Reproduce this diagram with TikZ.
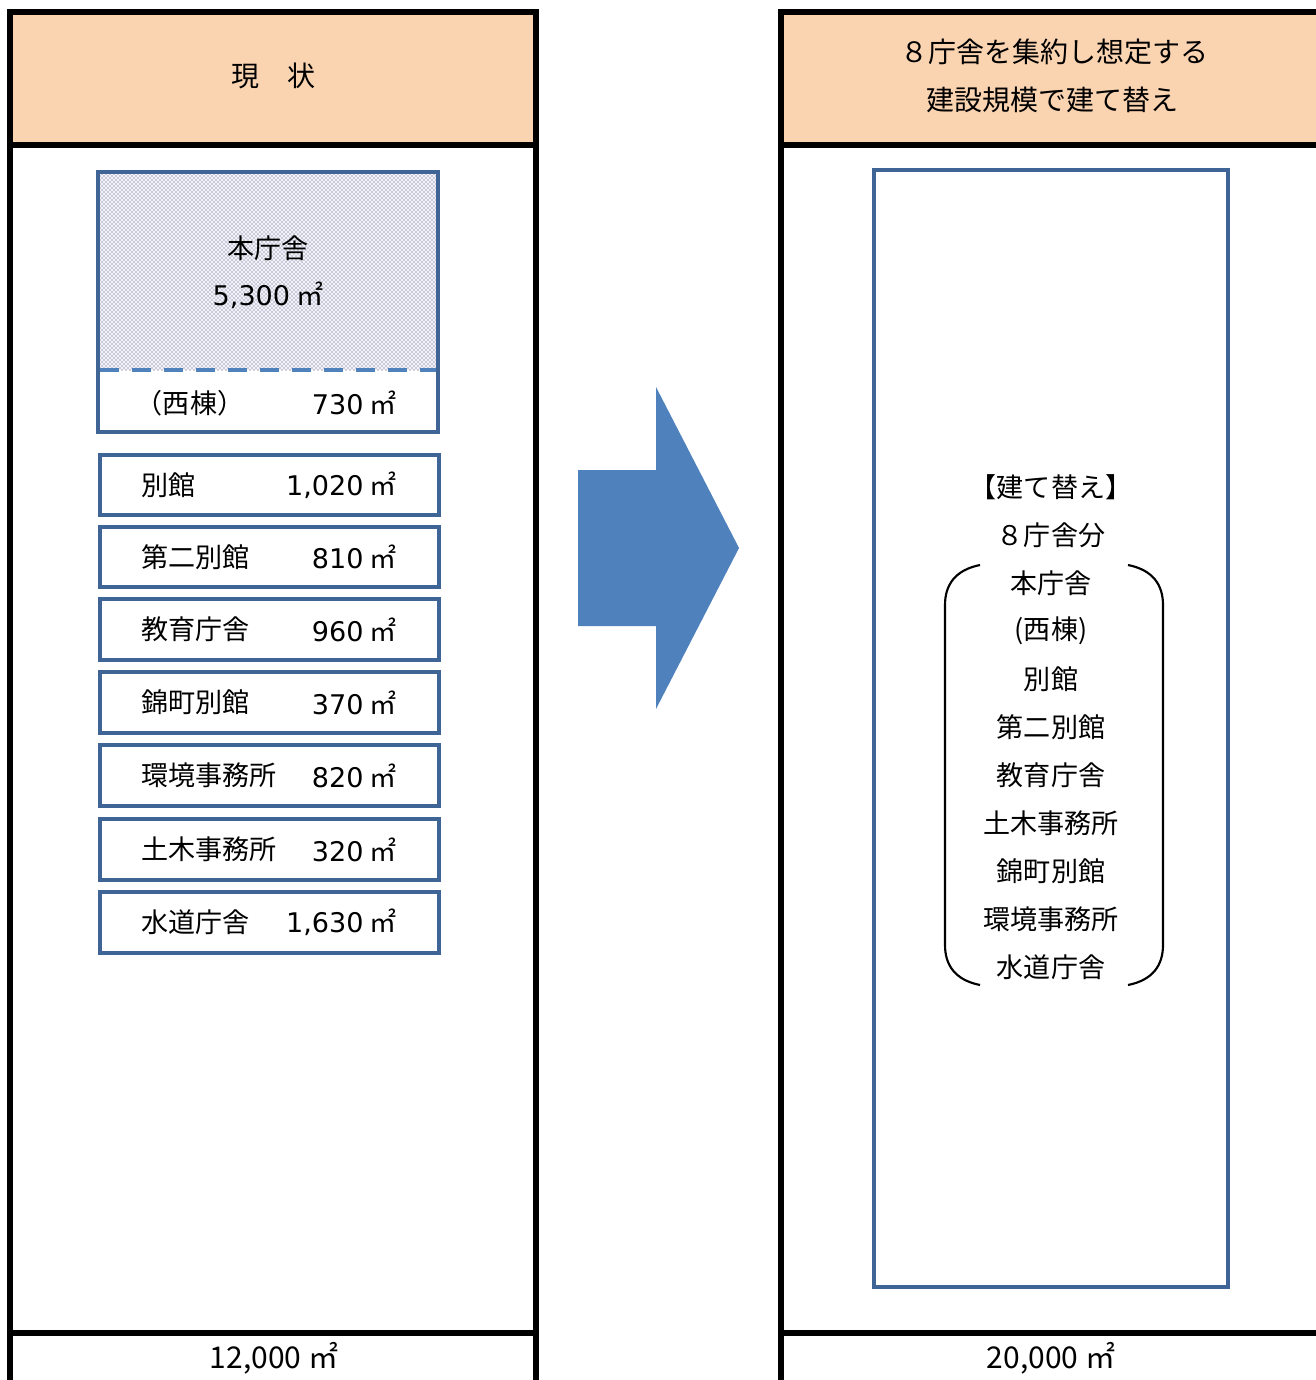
\documentclass[tikz,border=0pt]{standalone}
\usepackage{fontspec}
\setmainfont{Noto Sans CJK JP}
\newfontfamily\digfont{DejaVu Sans}
\newcommand{\nm}[1]{{\digfont #1}}
\usetikzlibrary{patterns}
\definecolor{peach}{HTML}{FAD3B1}
\definecolor{boxblue}{HTML}{3F6597}
\definecolor{arrowblue}{HTML}{4F81BD}
\tikzset{
  panel/.style={draw=black,line width=3.8pt},
  bluebox/.style={draw=boxblue,line width=3pt},
  txt/.style={font=\fontsize{20.3}{24}\selectfont,inner sep=0pt},
  btxt/.style={font=\fontsize{22.5}{26}\selectfont,inner sep=0pt},
  hdr/.style={font=\fontsize{21}{24}\selectfont,inner sep=0pt},
  brk/.style={draw=black,line width=1.6pt},
}
\begin{document}
\begin{tikzpicture}[x=0.75pt,y=-0.75pt]
\useasboundingbox (0,0) rectangle (1315,1380);
% left panel
\fill[peach] (10,12) rectangle (536,145);
\draw[panel] (10,1400) -- (10,12) -- (536,12) -- (536,1400);
\draw[panel] (10,145) -- (536,145);
\draw[panel] (10,1333) -- (536,1333);
\node[hdr] (lh) at (273,76) {現　状};
\node[btxt] (lb) at (274,1358) {12,000 ㎡};
% right panel
\fill[peach] (781,12) rectangle (1330,145);
\draw[panel] (781,1400) -- (781,12) -- (1330,12);
\draw[panel] (781,145) -- (1330,145);
\draw[panel] (781,1333) -- (1330,1333);
\node[hdr] (rh1) at (1054,52) {８庁舎を集約し想定する};
\node[hdr] (rh2) at (1052,100) {建設規模で建て替え};
\node[btxt] (rb) at (1051,1358) {20,000 ㎡};
% main building box
\fill[white] (98,172) rectangle (438,432);
\fill[blue!5] (98,172) rectangle (438,370);
\fill[pattern=crosshatch dots,pattern color=black!70] (98,172) rectangle (438,370);
\draw[arrowblue,line width=3pt,dash pattern=on 14pt off 10pt] (100,370) -- (438,370);
\draw[bluebox] (98,172) rectangle (438,432);
\node[txt] (m1) at (268,248) {本庁舎};
\node[txt] (m2) at (268,295) {\nm{5,300} ㎡};
\node[txt] (w1) at (190,403) {（西棟）};
\node[txt,anchor=east] (w2) at (397,403) {\nm{730} ㎡};
% small boxes
\foreach \yt/\yb/\lab/\val/\id in {455/515/{別館}/{1,020}/a, 527/587/{第二別館}/{810}/b, 599/660/{教育庁舎}/{960}/c, 672/733/{錦町別館}/{370}/d, 745/806/{環境事務所}/{820}/e, 819/880/{土木事務所}/{320}/f, 892/953/{水道庁舎}/{1,630}/g}{
  \draw[bluebox] (100,\yt) rectangle (439,\yb);
  \node[txt,anchor=west] (n\id) at (141,{(\yt+\yb)/2}) {\lab};
  \node[txt,anchor=east] (v\id) at (397,{(\yt+\yb)/2}) {\nm{\val} ㎡};
}
% arrow
\fill[arrowblue] (578,470) -- (656,470) -- (656,387) -- (739,548) -- (656,709) -- (656,626) -- (578,626) -- cycle;
% right inner box
\draw[bluebox] (874,170) rectangle (1228,1287);
\node[txt] (r0) at (1051,487) {【建て替え】};
\node[txt] (r1) at (1051,535) {８庁舎分};
\foreach \t [count=\i] in {本庁舎,(西棟),別館,第二別館,教育庁舎,土木事務所,錦町別館,環境事務所,水道庁舎}{
  \node[txt] (l\i) at (1051,{535+48*\i}) {\t};
}
% brackets
\draw[brk] (980,565) .. controls (955,570) and (945,585) .. (945,605) -- (945,945) .. controls (945,965) and (955,980) .. (980,985);
\draw[brk] (1128,565) .. controls (1153,570) and (1163,585) .. (1163,605) -- (1163,945) .. controls (1163,965) and (1153,980) .. (1128,985);
\end{tikzpicture}
\end{document}
